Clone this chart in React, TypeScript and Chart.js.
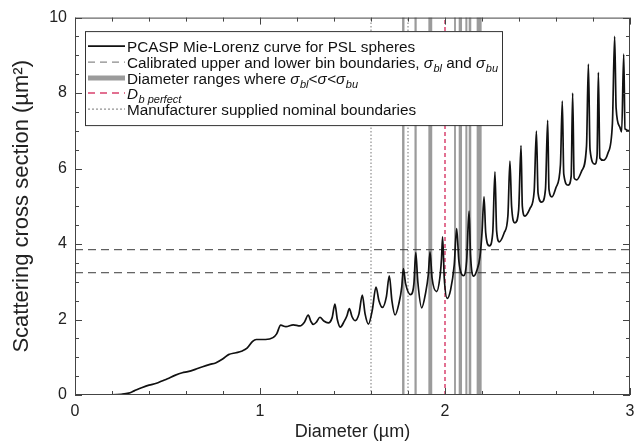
import React, { useEffect, useRef } from 'react';
import { Chart, registerables } from 'chart.js';

Chart.register(...registerables);

// ---------- data ----------
const diameters = [
  0, 0.1, 0.2, 0.25, 0.29, 0.32, 0.36, 0.4, 0.44, 0.47, 0.5, 0.54, 0.58, 0.61, 0.65, 0.69, 0.73, 0.76, 0.8, 0.83,
  0.87, 0.9, 0.93, 0.96, 0.98, 1.03, 1.07, 1.09, 1.112, 1.14, 1.18, 1.216,
  1.24, 1.261, 1.275, 1.288, 1.305, 1.324, 1.345, 1.369, 1.39, 1.405, 1.418, 1.434, 1.455, 1.47, 1.483, 1.497,
  1.514, 1.535, 1.553, 1.568, 1.586, 1.607, 1.627, 1.643, 1.662, 1.683, 1.699, 1.713, 1.73,
  1.752, 1.766, 1.775, 1.787, 1.814, 1.832, 1.842, 1.853, 1.874, 1.895, 1.91, 1.919, 1.93, 1.955, 1.972, 1.981,
  1.987, 1.996, 2.012, 2.03, 2.05, 2.063, 2.075, 2.1, 2.117, 2.13, 2.138, 2.155, 2.172, 2.189, 2.2, 2.211,
  2.22, 2.24, 2.258, 2.27, 2.279, 2.294, 2.32, 2.34, 2.351, 2.36, 2.378, 2.398, 2.411, 2.418, 2.432, 2.46, 2.482,
  2.494, 2.503, 2.523, 2.543, 2.555, 2.562, 2.578, 2.6, 2.624, 2.634, 2.642, 2.666, 2.682, 2.69, 2.698, 2.712,
  2.74, 2.765, 2.775, 2.784, 2.81, 2.822, 2.829, 2.837, 2.856, 2.88, 2.905, 2.917, 2.925, 2.945, 2.955, 2.966,
  2.973, 3.0,
];
const crossSections = [
  0, 0, 0.005, 0.02, 0.05, 0.11, 0.19, 0.26, 0.31, 0.37, 0.43, 0.52, 0.59, 0.62, 0.68, 0.75, 0.81, 0.85, 0.96, 1.07,
  1.12, 1.16, 1.24, 1.42, 1.47, 1.47, 1.52, 1.62, 1.85, 1.81, 1.86, 1.83,
  1.93, 2.12, 1.95, 1.87, 1.93, 2.06, 1.96, 1.91, 2.05, 2.41, 2.0, 1.8, 1.95, 2.1, 2.29, 2.08,
  1.97, 2.15, 2.65, 2.15, 1.88, 2.25, 2.86, 2.5, 2.32, 2.6, 3.16, 2.5, 2.12,
  2.45, 2.85, 3.35, 2.95, 2.66, 2.95, 3.77, 3.0, 2.31, 2.7, 3.2, 3.79, 3.1, 2.74, 3.1, 3.6,
  4.19, 3.1, 2.56, 2.78, 3.45, 4.41, 3.55, 3.16, 3.55, 4.87, 3.7, 3.15, 3.3, 3.66, 4.3, 5.25,
  4.3, 3.95, 4.3, 5.91, 4.35, 4.06, 4.3, 4.75, 6.2, 5.0, 4.56, 4.9, 6.61, 5.0, 4.74, 4.95, 5.4,
  6.99, 5.35, 5.11, 5.45, 7.28, 5.45, 5.25, 5.5, 6.1, 7.79, 5.85, 5.56, 5.8, 8.0, 5.75, 5.7,
  5.95, 6.6, 8.77, 6.5, 6.12, 6.35, 8.55, 6.28, 6.22, 6.4, 7.2, 9.5, 7.6, 7.1, 6.97, 9.03,
  7.05, 7.0,
];
const calibratedBounds = [3.24, 3.85];
const nominalBoundaries = [1.6, 1.8];
const dbPerfect = 2.0;
const diameterRanges: [number, number][] = [
  [1.768, 1.781], [1.835, 1.847], [1.91, 1.931], [2.049, 2.059],
  [2.074, 2.092], [2.11, 2.121], [2.128, 2.142], [2.171, 2.198],
];
const xRange = [0, 3];
const yRange = [0, 10];
const xMinorStep = 0.2;
const yMinorStep = 0.5;
const xTitle = 'Diameter (µm)';
const yTitle = 'Scattering cross section (µm²)';

type Seg = { t: string; i?: boolean; s?: boolean };
const legendLabels: Seg[][] = [
  [{ t: 'PCASP Mie-Lorenz curve for PSL spheres' }],
  [
    { t: 'Calibrated upper and lower bin boundaries, ' },
    { t: 'σ', i: true }, { t: 'bl', i: true, s: true },
    { t: ' and ' },
    { t: 'σ', i: true }, { t: 'bu', i: true, s: true },
  ],
  [
    { t: 'Diameter ranges where ' },
    { t: 'σ', i: true }, { t: 'bl', i: true, s: true },
    { t: '<' }, { t: 'σ', i: true }, { t: '<' },
    { t: 'σ', i: true }, { t: 'bu', i: true, s: true },
  ],
  [{ t: 'D', i: true }, { t: 'b perfect', i: true, s: true }],
  [{ t: 'Manufacturer supplied nominal boundaries' }],
];

// ---------- styles ----------
const FONT = 'Arial, "Liberation Sans", Helvetica, sans-serif';
const C_CURVE = '#111111';
const C_CAL = '#3a3a3a';
const C_CAL_LEG = '#8a8a8a';
const C_RANGE = 'rgba(150,150,150,0.95)';
const C_RED = '#d9426e';
const C_DOT = '#777777';

const rangesPlugin = {
  id: 'ranges',
  beforeDatasetsDraw(chart: any) {
    const { ctx, chartArea, scales } = chart;
    const xs = scales.x;
    ctx.save();
    ctx.fillStyle = C_RANGE;
    diameterRanges.forEach(([a, b]) => {
      const p1 = xs.getPixelForValue(a);
      const p2 = xs.getPixelForValue(b);
      ctx.fillRect(p1, chartArea.top, Math.max(p2 - p1, 1), chartArea.bottom - chartArea.top);
    });
    ctx.restore();
  },
};

function drawRich(ctx: CanvasRenderingContext2D, x: number, y: number, segs: Seg[]) {
  let cx = x;
  segs.forEach((sg) => {
    const size = sg.s ? 11 : 15.3;
    ctx.font = `${sg.i ? 'italic ' : ''}${size}px ${FONT}`;
    const yy = sg.s ? y + 4 : y;
    ctx.fillText(sg.t, cx, yy);
    cx += ctx.measureText(sg.t).width + (sg.i && !sg.s ? 0.5 : 0);
  });
}

const framePlugin = {
  id: 'frameLegend',
  afterDatasetsDraw(chart: any) {
    const { ctx, chartArea, scales } = chart;
    const { left, right, top, bottom } = chartArea;
    const xs = scales.x;
    const ys = scales.y;
    ctx.save();
    ctx.strokeStyle = '#444';
    ctx.lineWidth = 1;
    ctx.setLineDash([]);
    ctx.strokeRect(left + 0.5, top + 0.5, right - left - 1, bottom - top - 1);
    for (let v = xRange[0]; v <= xRange[1] + 1e-9; v += xMinorStep) {
      const major = Math.abs(v - Math.round(v)) < 1e-6;
      const len = major ? 7 : 4;
      const px = Math.round(xs.getPixelForValue(v)) + 0.5;
      ctx.beginPath();
      ctx.moveTo(px, bottom);
      ctx.lineTo(px, bottom - len);
      ctx.moveTo(px, top);
      ctx.lineTo(px, top + len);
      ctx.stroke();
    }
    for (let v = yRange[0]; v <= yRange[1] + 1e-9; v += yMinorStep) {
      const major = Math.abs(v / 2 - Math.round(v / 2)) < 1e-6;
      const len = major ? 7 : 4;
      const py = Math.round(ys.getPixelForValue(v)) + 0.5;
      ctx.beginPath();
      ctx.moveTo(left, py);
      ctx.lineTo(left + len, py);
      ctx.moveTo(right, py);
      ctx.lineTo(right - len, py);
      ctx.stroke();
    }
    // legend
    const L = left + 10;
    const T = top + 13.5;
    const W = 417;
    const H = 94;
    ctx.fillStyle = '#ffffff';
    ctx.fillRect(L, T, W, H);
    ctx.strokeStyle = '#333';
    ctx.strokeRect(L + 0.5, T + 0.5, W, H);
    const rowY = [15, 31, 47, 62, 78];
    const sx0 = L + 3;
    const sx1 = L + 40;
    const styles = [
      { c: C_CURVE, w: 1.6, d: [] as number[] },
      { c: C_CAL_LEG, w: 1.3, d: [7, 5] },
      { c: C_RANGE, w: 5, d: [] as number[] },
      { c: C_RED, w: 1.5, d: [7, 5] },
      { c: C_DOT, w: 1, d: [2, 2] },
    ];
    styles.forEach((st, i) => {
      const y = T + rowY[i];
      ctx.beginPath();
      ctx.strokeStyle = st.c;
      ctx.lineWidth = st.w;
      ctx.setLineDash(st.d);
      ctx.moveTo(sx0, y);
      ctx.lineTo(sx1, y);
      ctx.stroke();
    });
    ctx.setLineDash([]);
    ctx.fillStyle = '#111';
    ctx.textBaseline = 'alphabetic';
    legendLabels.forEach((segs, i) => {
      drawRich(ctx, L + 42, T + rowY[i] + 5.5, segs);
    });
    ctx.restore();
  },
};

export default function App() {
  const ref = useRef<HTMLCanvasElement | null>(null);
  useEffect(() => {
    if (!ref.current) return;
    Chart.defaults.font.family = FONT;
    const lineDs = (pts: { x: number; y: number }[], color: string, width: number, dash: number[]) => ({
      data: pts,
      borderColor: color,
      borderWidth: width,
      borderDash: dash,
      pointRadius: 0,
      tension: 0,
      fill: false,
    });
    const chart = new Chart(ref.current, {
      type: 'line',
      data: {
        datasets: [
          {
            label: legendLabels[0][0].t,
            data: diameters.map((x, i) => ({ x, y: crossSections[i] })),
            borderColor: C_CURVE,
            borderWidth: 1.7,
            pointRadius: 0,
            cubicInterpolationMode: 'monotone',
            fill: false,
          },
          ...calibratedBounds.map((v) =>
            lineDs([{ x: xRange[0], y: v }, { x: xRange[1], y: v }], C_CAL, 1, [8, 5])
          ),
          lineDs([{ x: dbPerfect, y: yRange[0] }, { x: dbPerfect, y: yRange[1] }], C_RED, 1.5, [4, 3]),
          ...nominalBoundaries.map((v) =>
            lineDs([{ x: v, y: yRange[0] }, { x: v, y: yRange[1] }], C_DOT, 1, [1.5, 2])
          ),
        ] as any,
      },
      options: {
        animation: false,
        responsive: false,
        maintainAspectRatio: false,
        layout: { padding: { top: 17, right: 5, left: 0, bottom: 0 } },
        plugins: { legend: { display: false }, tooltip: { enabled: false } },
        scales: {
          x: {
            type: 'linear',
            min: xRange[0],
            max: xRange[1],
            grid: { display: false, drawTicks: false },
            border: { display: false },
            ticks: { stepSize: 1, padding: 7, color: '#222', font: { size: 16 } },
            title: { display: true, text: xTitle, color: '#222', font: { size: 18 }, padding: { top: 0, bottom: 2 } },
            afterFit: (s: any) => { s.height = 50; s.paddingRight = 0; s.paddingLeft = 0; },
          },
          y: {
            type: 'linear',
            min: yRange[0],
            max: yRange[1],
            grid: { display: false, drawTicks: false },
            border: { display: false },
            ticks: { stepSize: 2, padding: 8, color: '#222', font: { size: 16 } },
            title: { display: true, text: yTitle, color: '#222', font: { size: 22 }, padding: { top: 9, bottom: 0 } },
            afterFit: (s: any) => { s.width = 75; },
          },
        },
      } as any,
      plugins: [rangesPlugin, framePlugin],
    });
    return () => chart.destroy();
  }, []);
  return (
    <div style={{ position: 'fixed', left: 0, top: 0, width: 635, height: 445, background: '#fff' }}>
      <canvas ref={ref} width={635} height={445} />
    </div>
  );
}
